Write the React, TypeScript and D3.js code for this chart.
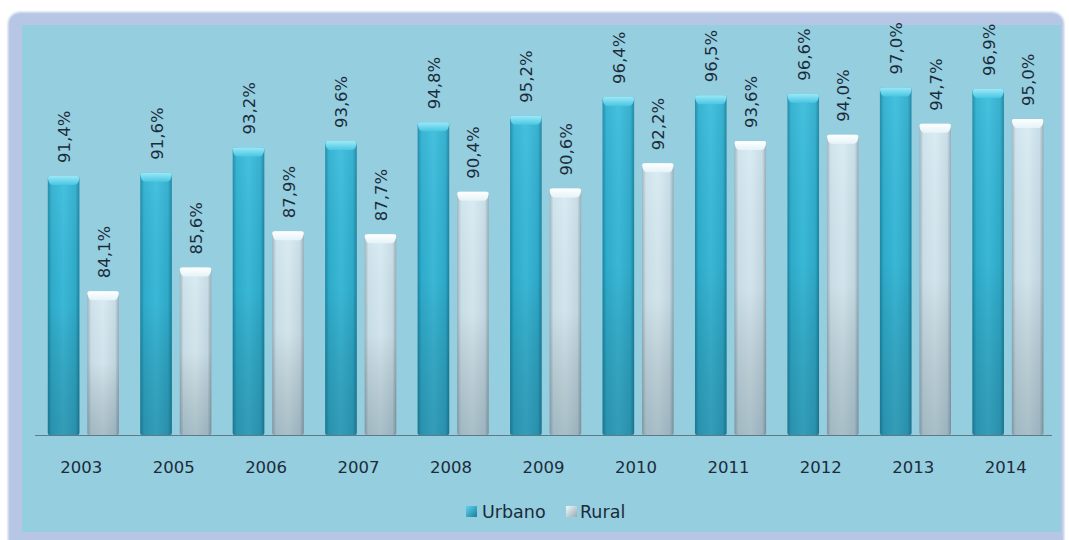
import React from "react";
import * as d3 from "d3";

const years = ["2003", "2005", "2006", "2007", "2008", "2009", "2010", "2011", "2012", "2013", "2014"];
const seriesNames = ["Urbano", "Rural"];
const urbano = [91.4, 91.6, 93.2, 93.6, 94.8, 95.2, 96.4, 96.5, 96.6, 97.0, 96.9];
const rural = [84.1, 85.6, 87.9, 87.7, 90.4, 90.6, 92.2, 93.6, 94.0, 94.7, 95.0];
const yDomain = [75, 100];

const W = 1069;
const H = 540;
const FONT = "'DejaVu Sans', Verdana, sans-serif";
const TEXT = "#1c2b3a";

const fmt = (v: number) => v.toFixed(1).replace(".", ",") + "%";

export default function App() {
  const x0 = d3.scaleBand<string>().domain(years).range([35, 1052]).paddingInner(0).paddingOuter(0);
  const x1 = d3
    .scaleBand<string>()
    .domain(seriesNames)
    .range([0, x0.bandwidth()])
    .paddingInner(0.2)
    .paddingOuter(0.27)
    .align(0.6);
  const y = d3.scaleLinear().domain(yDomain).range([435, 40]);
  const baseY = y(yDomain[0]);
  const bw = x1.bandwidth();

  const capPath = (x: number, top: number, w: number) => {
    const p = d3.path();
    const inset = 5;
    const h = 9;
    p.moveTo(x, top + 2);
    p.quadraticCurveTo(x, top, x + 2, top);
    p.lineTo(x + w - 2, top);
    p.quadraticCurveTo(x + w, top, x + w, top + 2);
    p.quadraticCurveTo(x + w - 1, top + h, x + w - inset, top + h);
    p.lineTo(x + inset, top + h);
    p.quadraticCurveTo(x + 1, top + h, x, top + 2);
    p.closePath();
    return p.toString();
  };

  const data = [
    { name: "Urbano", values: urbano, body: "url(#urbH)", cap: "url(#urbCap)" },
    { name: "Rural", values: rural, body: "url(#rurH)", cap: "url(#rurCap)" },
  ];

  return (
    <svg width={W} height={H} style={{ position: "absolute", left: 0, top: 0, display: "block" }} fontFamily={FONT}>
      <defs>
        <linearGradient id="urbH" x1="0" x2="1" y1="0" y2="0">
          <stop offset="0" stopColor="#1b89a6" />
          <stop offset="0.12" stopColor="#2fb0d0" />
          <stop offset="0.5" stopColor="#3cbddc" />
          <stop offset="0.88" stopColor="#2fadcd" />
          <stop offset="1" stopColor="#1a84a0" />
        </linearGradient>
        <linearGradient id="rurH" x1="0" x2="1" y1="0" y2="0">
          <stop offset="0" stopColor="#9fb3bd" />
          <stop offset="0.12" stopColor="#cde3ec" />
          <stop offset="0.5" stopColor="#d8ebf2" />
          <stop offset="0.88" stopColor="#c6dce6" />
          <stop offset="1" stopColor="#97aab4" />
        </linearGradient>
        <linearGradient id="shadeV" x1="0" x2="0" y1="0" y2="1">
          <stop offset="0" stopColor="#ffffff" stopOpacity="0.05" />
          <stop offset="0.5" stopColor="#000000" stopOpacity="0.03" />
          <stop offset="1" stopColor="#1a3a4a" stopOpacity="0.25" />
        </linearGradient>
        <linearGradient id="urbCap" x1="0" x2="0" y1="0" y2="1">
          <stop offset="0" stopColor="#9ce9f8" />
          <stop offset="1" stopColor="#49c6e3" />
        </linearGradient>
        <linearGradient id="rurCap" x1="0" x2="0" y1="0" y2="1">
          <stop offset="0" stopColor="#ffffff" />
          <stop offset="1" stopColor="#e4f3f8" />
        </linearGradient>
        <linearGradient id="legUrb" x1="0" x2="1" y1="0" y2="1">
          <stop offset="0" stopColor="#5fd3ee" />
          <stop offset="1" stopColor="#1c7f9a" />
        </linearGradient>
        <linearGradient id="legRur" x1="0" x2="1" y1="0" y2="1">
          <stop offset="0" stopColor="#f0fafd" />
          <stop offset="1" stopColor="#98abb5" />
        </linearGradient>
        <filter id="soft" x="-2%" y="-2%" width="104%" height="104%">
          <feGaussianBlur stdDeviation="1.2" />
        </filter>
      </defs>

      <rect x={0} y={0} width={W} height={H} fill="#ffffff" />
      <rect x={8} y={12} width={1056} height={540} rx={12} fill="#b6c6e4" filter="url(#soft)" />
      <rect x={22} y={25} width={1039} height={507} fill="#94cedf" />

      {data.map((s) =>
        s.values.map((v, i) => {
          const bx = (x0(years[i]) as number) + (x1(s.name) as number);
          const top = y(v);
          return (
            <g key={s.name + i}>
              <rect x={bx} y={top} width={bw} height={baseY - top} rx={2} fill={s.body} />
              <rect x={bx} y={top} width={bw} height={baseY - top} rx={2} fill="url(#shadeV)" />
              <path d={capPath(bx, top, bw)} fill={s.cap} />
              <text
                transform={`translate(${bx + bw / 2 + 1},${top - 13}) rotate(-90)`}
                fontSize={16.5}
                fill={TEXT}
                dominantBaseline="central"
                textAnchor="start"
              >
                {fmt(v)}
              </text>
            </g>
          );
        })
      )}

      <line x1={35} x2={1052} y1={baseY + 0.5} y2={baseY + 0.5} stroke="#5f7a86" strokeWidth={1.2} />

      {years.map((yr) => (
        <text
          key={yr}
          x={(x0(yr) as number) + x0.bandwidth() / 2}
          y={473}
          textAnchor="middle"
          fontSize={16.5}
          fill={TEXT}
        >
          {yr}
        </text>
      ))}

      <g>
        <rect x={466} y={506} width={11} height={11} fill="url(#legUrb)" />
        <text x={482} y={518} fontSize={17.5} fill={TEXT}>
          Urbano
        </text>
        <rect x={566} y={506} width={11} height={11} fill="url(#legRur)" />
        <text x={580} y={518} fontSize={17.5} fill={TEXT}>
          Rural
        </text>
      </g>
    </svg>
  );
}
